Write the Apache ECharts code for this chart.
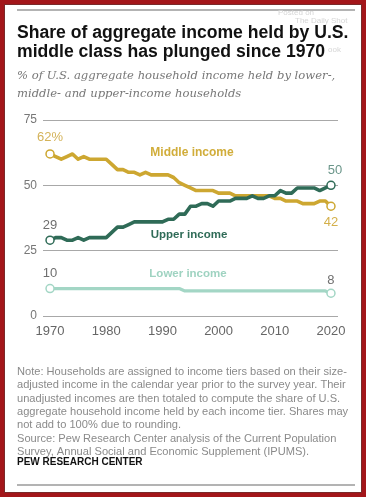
<!DOCTYPE html>
<html><head><meta charset="utf-8">
<script src="https://cdn.jsdelivr.net/npm/echarts@6/dist/echarts.min.js"></script>
<style>
html,body{margin:0;padding:0;background:#fff;}
#chart{position:absolute;left:0;top:0;width:366px;height:497px;}
#frame{position:absolute;left:0;top:0;width:366px;height:497px;box-sizing:border-box;border:4px solid #a3161a;box-shadow:inset 0 0 0 1px #7a2a2a;pointer-events:none;}
</style></head>
<body><div id="chart"></div><div id="frame"></div>
<script>
// ---- data ----
var years = [1970,1971,1972,1973,1974,1975,1976,1977,1978,1979,
             1980,1981,1982,1983,1984,1985,1986,1987,1988,1989,
             1990,1991,1992,1993,1994,1995,1996,1997,1998,1999,
             2000,2001,2002,2003,2004,2005,2006,2007,2008,2009,
             2010,2011,2012,2013,2014,2015,2016,2017,2018,2019,2020];
var middleIncome = [62,61,60,61,62,60,61,60,60,60,
                    60,58,56,56,55,55,54,55,54,54,
                    54,54,53,51,50,49,48,48,48,48,
                    47,47,47,46,46,46,46,46,46,46,
                    45,45,44,44,44,43,43,43,44,44,42];
var upperIncome = [29,30,30,29,29,30,29,30,30,30,
                   30,32,34,34,35,36,36,36,36,36,
                   36,37,37,39,39,42,42,43,43,42,
                   44,44,44,45,45,45,46,45,45,46,
                   46,48,47,47,49,49,49,49,48,49,50];
var lowerIncome = [10.5,10.5,10.5,10.5,10.5,10.5,10.5,10.5,10.5,10.5,
                   10.5,10.5,10.5,10.5,10.5,10.5,10.5,10.5,10.5,10.5,
                   10.5,10.5,10.5,10.5,9.6,9.6,9.6,9.6,9.6,9.6,
                   9.6,9.6,9.6,9.6,9.6,9.6,9.6,9.6,9.6,9.6,
                   9.6,9.6,9.6,9.6,9.6,9.6,9.6,9.6,9.6,9.6,8.7];
var xTickValues = [1970,1980,1990,2000,2010,2020];
var yTickValues = [0,25,50,75];
var seriesNames = ['Middle income','Upper income','Lower income'];
var startLabels = ['62%','29','10'];
var endLabels = ['42','50','8'];

var titleText = 'Share of aggregate income held by U.S.\nmiddle class has plunged since 1970';
var subtitleText = '% of U.S. aggregate household income held by lower-,\nmiddle- and upper-income households';
var noteText = 'Note: Households are assigned to income tiers based on their size-\n' +
  'adjusted income in the calendar year prior to the survey year. Their\n' +
  'unadjusted incomes are then totaled to compute the share of U.S.\n' +
  'aggregate household income held by each income tier. Shares may\n' +
  'not add to 100% due to rounding.\n' +
  'Source: Pew Research Center analysis of the Current Population\n' +
  'Survey, Annual Social and Economic Supplement (IPUMS).';

// ---- styles ----
var C_MID = '#cda731', C_UP = '#2f6b57', C_LOW = '#a3d6c5';
var SANS = '"Liberation Sans", Arial, sans-serif';

function build(vals, startLbl, endLbl, startCfg, endCfg) {
  var n = vals.length;
  return vals.map(function (v, i) {
    var item = { value: [years[i], v] };
    if (i === 0) item.label = Object.assign({ show: true, formatter: startLbl }, startCfg);
    if (i === n - 1) item.label = Object.assign({ show: true, formatter: endLbl }, endCfg);
    return item;
  });
}
function sym(v, p) { return (p.dataIndex === 0 || p.dataIndex === years.length - 1) ? 'circle' : 'none'; }

function lineSeries(name, vals, color, width, sL, eL, sCfg, eCfg) {
  return {
    name: name, type: 'line', data: build(vals, sL, eL, sCfg, eCfg),
    symbol: sym, symbolSize: 8, showAllSymbol: true,
    lineStyle: { color: color, width: width, cap: 'round', join: 'round' },
    itemStyle: { color: '#fff', borderColor: color, borderWidth: 1.5 },
    emphasis: { disabled: true },
    label: { fontFamily: SANS, fontSize: 13 },
    z: 3
  };
}

var chart = echarts.init(document.getElementById('chart'), null, { renderer: 'canvas' });
chart.setOption({
  animation: false,
  backgroundColor: '#fff',
  grid: { left: 43, right: 28, top: 120, bottom: 181, containLabel: false },
  xAxis: {
    type: 'value', min: 1968.75, max: 2021.25,
    axisLine: { show: false }, axisTick: { show: false }, splitLine: { show: false },
    axisLabel: { customValues: xTickValues, formatter: function (v) { return String(v); },
      color: '#666', fontSize: 13, fontFamily: SANS, margin: 9 }
  },
  yAxis: {
    type: 'value', min: 0, max: 75, interval: 25,
    axisLine: { show: false }, axisTick: { show: false },
    splitLine: { lineStyle: { color: '#a8a8a8', width: 1 } },
    axisLabel: { color: '#777', fontSize: 12, fontFamily: SANS, margin: 6 }
  },
  series: [
    lineSeries(seriesNames[2], lowerIncome, C_LOW, 3.2, startLabels[2], endLabels[2],
      { position: 'top', distance: 4, color: '#6f6f6f' },
      { position: 'top', distance: 2, color: '#6f6f6f' }),
    lineSeries(seriesNames[0], middleIncome, C_MID, 3.6, startLabels[0], endLabels[0],
      { position: 'top', distance: 5, color: '#d4b35a' },
      { position: 'bottom', distance: 5, color: '#d4b04a' }),
    lineSeries(seriesNames[1], upperIncome, C_UP, 3.6, startLabels[1], endLabels[1],
      { position: 'top', distance: 4, color: '#6f6f6f' },
      { position: 'top', distance: 4, offset: [4, 0], color: '#6b968a' })
  ],
  graphic: [
    { type: 'line', shape: { x1: 17, y1: 10, x2: 355, y2: 10 }, style: { stroke: '#9a9a9a', lineWidth: 1.5 } },
    { type: 'text', x: 278, y: 9, style: { text: 'Posted on', font: '8px ' + SANS, fill: '#d6d6d6' } },
    { type: 'text', x: 295, y: 17, style: { text: 'The Daily Shot', font: '8px ' + SANS, fill: '#d6d6d6' } },
    { type: 'text', x: 328, y: 46, style: { text: 'ook', font: '8px ' + SANS, fill: '#d6d6d6' } },
    { type: 'text', x: 17, y: 23.5, style: { text: titleText, font: 'bold 17.6px ' + SANS, fill: '#111', lineHeight: 19 } },
    { type: 'text', x: 17, y: 67, style: { text: subtitleText, font: 'italic 11.6px "DejaVu Serif", serif', fill: '#777', lineHeight: 18 } },
    { type: 'text', x: 192, y: 147, style: { text: seriesNames[0], font: 'bold 12px ' + SANS, fill: '#d1ad3a', textAlign: 'center' } },
    { type: 'text', x: 189, y: 229, style: { text: seriesNames[1], font: 'bold 11.5px ' + SANS, fill: C_UP, textAlign: 'center' } },
    { type: 'text', x: 188, y: 268, style: { text: seriesNames[2], font: 'bold 11.5px ' + SANS, fill: '#9fd3c1', textAlign: 'center' } },
    { type: 'text', x: 17, y: 365, style: { text: noteText, font: '11.1px ' + SANS, fill: '#8a8a8a', lineHeight: 13.4 } },
    { type: 'text', x: 17, y: 457, style: { text: 'PEW RESEARCH CENTER', font: 'bold 10px ' + SANS, fill: '#111' } },
    { type: 'line', shape: { x1: 17, y1: 485, x2: 355, y2: 485 }, style: { stroke: '#9a9a9a', lineWidth: 1.5 } }
  ]
});
</script>
</body></html>
